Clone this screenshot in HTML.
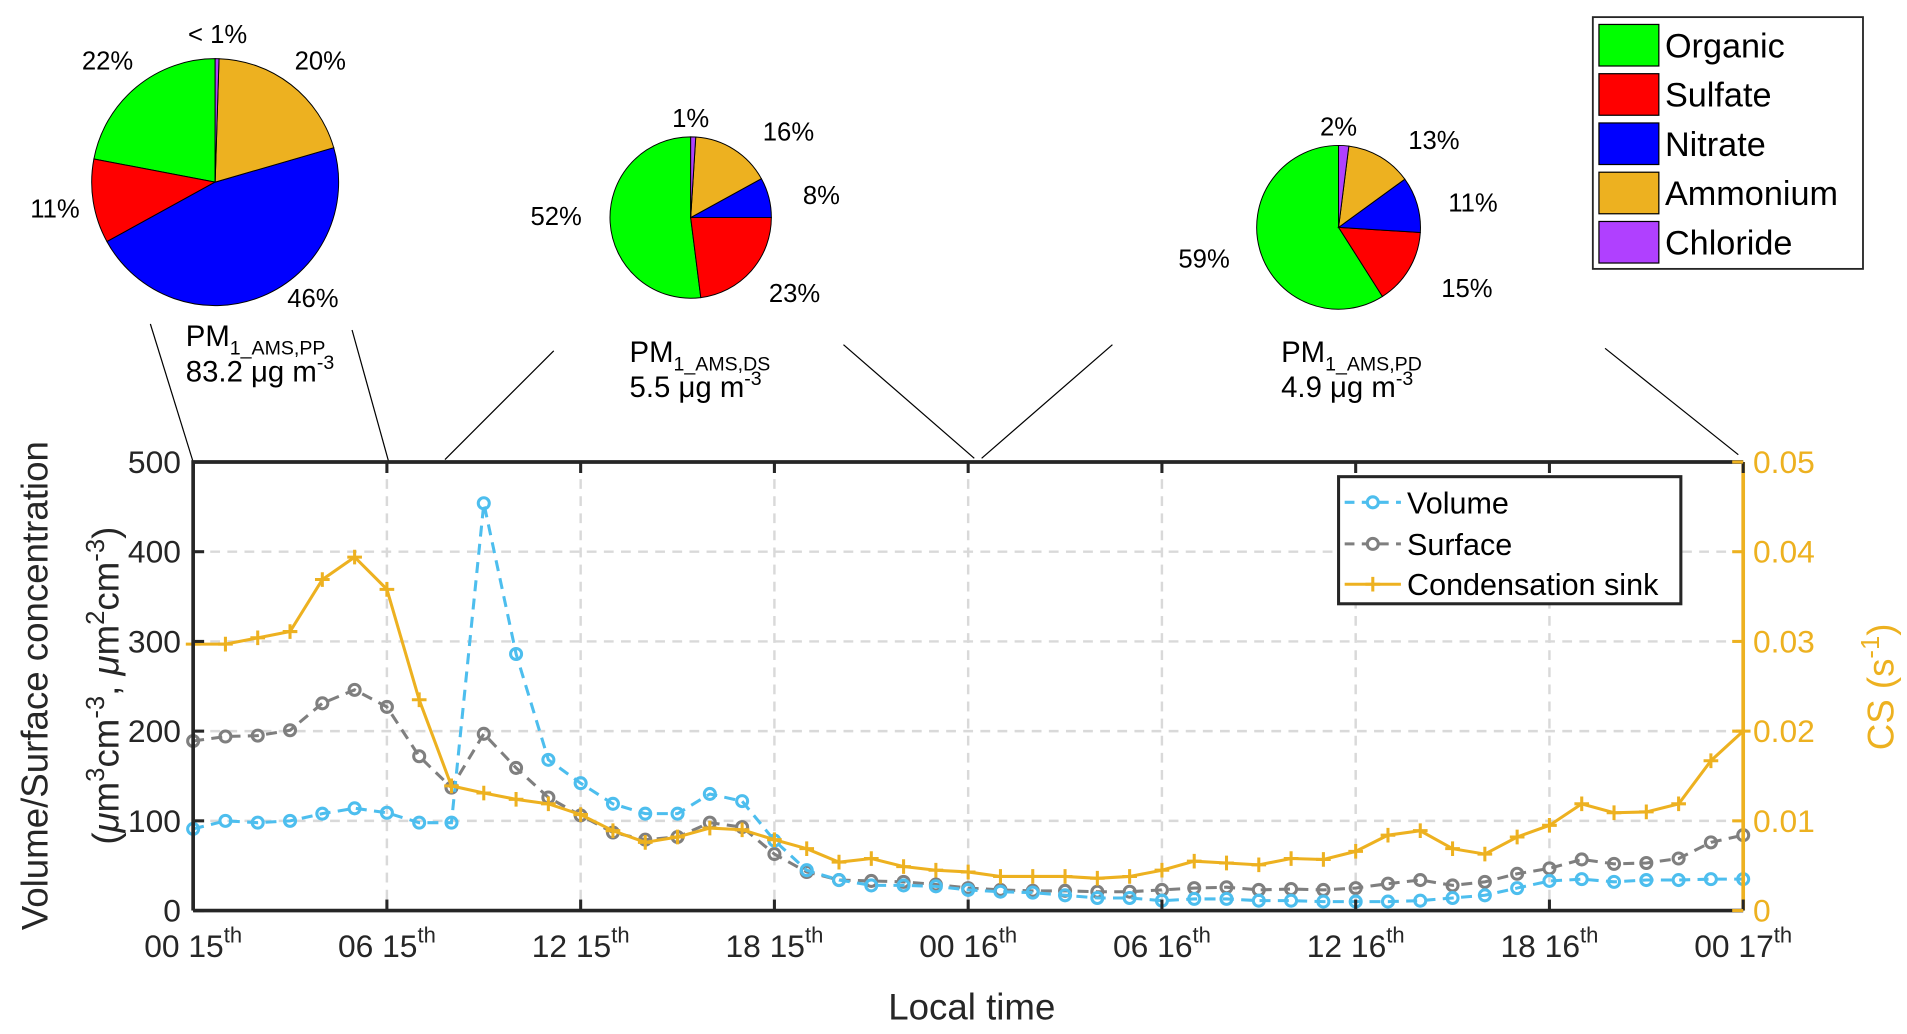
<!DOCTYPE html>
<html><head><meta charset="utf-8"><style>
html,body{margin:0;padding:0;background:#fff;}
svg{display:block;font-family:"Liberation Sans",sans-serif;}
</style></head><body>
<svg id="chart" width="1907" height="1034" viewBox="0 0 1560 846" preserveAspectRatio="none" xmlns="http://www.w3.org/2000/svg">
<g id="pies"></g>
<g id="grid"></g>
<g id="series"></g>
<g id="axes"></g>
</svg>
<script>
const hours = Array.from({length:49},(_,i)=>i);
const volume = [91,100,98,100,108,114,109,98,98,454,286,168,142,119,108,108,130,122,78,45,34,28,28,27,23,21,20,17,14,14,11,13,13,11,11,10,10,10,11,14,17,25,33,35,32,34,34,35,35];
const surface = [189,194,195,201,231,246,227,172,137,197,159,126,106,87,79,82,98,93,63,43,34,33,32,29,25,23,22,22,21,21,23,25,26,23,24,23,25,30,34,28,32,41,47,57,52,53,58,76,84];
const cs = [0.0297,0.0297,0.0304,0.0311,0.0369,0.0394,0.0358,0.0235,0.0139,0.0131,0.0124,0.0119,0.0107,0.0089,0.0076,0.0082,0.0092,0.0090,0.0079,0.0069,0.0054,0.0058,0.0049,0.0045,0.0043,0.0038,0.0038,0.0038,0.0036,0.0038,0.0045,0.0055,0.0053,0.0051,0.0058,0.0057,0.0066,0.0084,0.0089,0.0069,0.0063,0.0082,0.0095,0.0119,0.0109,0.0110,0.0119,0.0167,0.0200];
const xTickHours = [0,6,12,18,24,30,36,42,48];
const xTickLabels = [["00","15"],["06","15"],["12","15"],["18","15"],["00","16"],["06","16"],["12","16"],["18","16"],["00","17"]];
const yTicks = [0,100,200,300,400,500];
const y2Ticks = [0,0.01,0.02,0.03,0.04,0.05];
const pieSpecies = ["Organic","Sulfate","Nitrate","Ammonium","Chloride"];
const pieColors = ["#00ff00","#ff0000","#0000ff","#edb120","#b040ff"];
const pie1 = [0.22,0.11,0.465,0.20,0.005];
const pie2 = [0.52,0.23,0.08,0.16,0.01];
const pie3 = [0.59,0.15,0.11,0.13,0.02];

const NS="http://www.w3.org/2000/svg";
const L=158,R=1426,T=378,B=745;
const xS=h=>L+(R-L)*h/48;
const yS=v=>B-(B-T)*v/500;
const y2S=v=>B-(B-T)*v/0.05;
function mk(tag,attrs,parent,text){const e=document.createElementNS(NS,tag);for(const k in attrs)e.setAttribute(k,attrs[k]);if(text!==undefined)e.textContent=text;parent.appendChild(e);return e;}
const gG=document.getElementById('grid'),gS=document.getElementById('series'),gA=document.getElementById('axes'),gP=document.getElementById('pies');

xTickHours.forEach(h=>{if(h>0&&h<48){const l=mk('line',{x1:xS(h),x2:xS(h),y1:T,y2:B,stroke:'#d9d9d9','stroke-width':2,'stroke-dasharray':'8,6'},gG);

}});
yTicks.forEach(v=>{if(v>0&&v<500){const l=mk('line',{x1:L,x2:R,y1:yS(v),y2:yS(v),stroke:'#d9d9d9','stroke-width':2,'stroke-dasharray':'8,6'},gG);

}});

function series(vals,scale,color,dash,marker,name){
  const g=mk('g',{},gS);
  
  
  const pts=vals.map((v,i)=>xS(hours[i]).toFixed(1)+','+scale(v).toFixed(1)).join(' ');
  const pl=mk('polyline',{points:pts,fill:'none',stroke:color,'stroke-width':2.5,'stroke-dasharray':dash||'none'},g);
  
  
  vals.forEach((v,i)=>{const x=xS(hours[i]),y=scale(v);
    if(marker==='o'){const c=mk('circle',{cx:x,cy:y,r:4.5,fill:'none',stroke:color,'stroke-width':2.5},g);
      
      }
    else{const p=mk('path',{d:`M${x-6},${y}H${x+6}M${x},${y-6}V${y+6}`,stroke:color,'stroke-width':2.5},g);
      
      }
  });
}
series(surface,yS,'#7f7f7f','9,6','o','surface');
series(volume,yS,'#4dbeee','9,6','o','volume');
series(cs,y2S,'#edb120',null,'+','condensation-sink');

mk('path',{d:`M${L},${B}V${T}H${R}M${L},${B}H${R}`,fill:'none',stroke:'#262626','stroke-width':3},gA);
mk('line',{x1:R,x2:R,y1:T,y2:B,stroke:'#edb120','stroke-width':3},gA);
xTickHours.forEach((h,i)=>{const x=xS(h);
  mk('line',{x1:x,x2:x,y1:B,y2:B-9,stroke:'#262626','stroke-width':2.5},gA);
  mk('line',{x1:x,x2:x,y1:T,y2:T+9,stroke:'#262626','stroke-width':2.5},gA);
  const t=mk('text',{x:x,y:B+38,'text-anchor':'middle','font-size':26,fill:'#262626'},gA);
  
  
  t.appendChild(document.createTextNode(xTickLabels[i][0]+' '+xTickLabels[i][1]));
  mk('tspan',{dy:-12,'font-size':18},t,'th');
});
yTicks.forEach(v=>{const y=yS(v);
  mk('line',{x1:L,x2:L+9,y1:y,y2:y,stroke:'#262626','stroke-width':2.5},gA);
  const t=mk('text',{x:148,y:y+9,'text-anchor':'end','font-size':26,fill:'#262626'},gA,String(v));
  
  });
y2Ticks.forEach(v=>{const y=y2S(v);
  mk('line',{x1:R,x2:R-9,y1:y,y2:y,stroke:'#edb120','stroke-width':2.5},gA);
  const t=mk('text',{x:R+8,y:y+9,'font-size':26,fill:'#edb120'},gA,v===0?'0':v.toFixed(2));
  
  });
let t=mk('text',{x:795,y:834,'text-anchor':'middle','font-size':30,fill:'#262626'},gA,'Local time');


t=mk('text',{transform:'translate(39,561) rotate(-90)','text-anchor':'middle','font-size':30,fill:'#262626'},gA,'Volume/Surface concentration');


t=mk('text',{transform:'translate(97,561) rotate(-90)','text-anchor':'middle','font-size':30,fill:'#262626'},gA);


t.innerHTML='(<tspan font-style="italic">μ</tspan>m<tspan dy="-12" font-size="21">3</tspan><tspan dy="12">cm</tspan><tspan dy="-12" font-size="21">-3</tspan><tspan dy="12">, </tspan><tspan font-style="italic">μ</tspan>m<tspan dy="-12" font-size="21">2</tspan><tspan dy="12">cm</tspan><tspan dy="-12" font-size="21">-3</tspan><tspan dy="12">)</tspan>';
t=mk('text',{transform:'translate(1549,562) rotate(-90)','text-anchor':'middle','font-size':30,fill:'#edb120'},gA);


t.innerHTML='CS (s<tspan dy="-12" font-size="21">-1</tspan><tspan dy="12">)</tspan>';

const lg=mk('g',{},gA);


mk('rect',{x:1095,y:390,width:280,height:104,fill:'#fff',stroke:'#262626','stroke-width':2.5},lg);
[['Volume','#4dbeee','o',411],['Surface','#7f7f7f','o',445],['Condensation sink','#edb120','+',478]].forEach(e=>{
  const g=mk('g',{},lg);
  
  
  mk('line',{x1:1100,x2:1146,y1:e[3],y2:e[3],stroke:e[1],'stroke-width':2.5,'stroke-dasharray':e[2]==='o'?'8,6':'none'},g);
  if(e[2]==='o')mk('circle',{cx:1123,cy:e[3],r:4.5,fill:'#fff',stroke:e[1],'stroke-width':2.5},g);
  else mk('path',{d:`M1117,${e[3]}H1129M1123,${e[3]-6}V${e[3]+6}`,stroke:e[1],'stroke-width':2.5},g);
  mk('text',{x:1151,y:e[3]+9,'font-size':25,fill:'#000'},g,e[0]);
});

function pie(fr,cx,cy,r,name){
  const g=mk('g',{},gP);
  
  
  let a=0;
  fr.forEach((f,i)=>{
    const a0=a*2*Math.PI,a1=(a+f)*2*Math.PI;a+=f;
    const p=th=>[(cx-r*Math.sin(th)).toFixed(2),(cy-r*Math.cos(th)).toFixed(2)];
    const [x0,y0]=p(a0),[x1,y1]=p(a1);
    const s=mk('path',{d:`M${cx},${cy}L${x0},${y0}A${r},${r} 0 ${f>0.5?1:0} 0 ${x1},${y1}Z`,fill:pieColors[i],stroke:'#000','stroke-width':0.8},g);
    
    
  });
}
pie(pie1,176,149,101,'pie-pp');
pie(pie2,565,178,66,'pie-ds');
pie(pie3,1095,186,67,'pie-pd');
const pctLabels=[['< 1%',178,35],['20%',262,57],['22%',88,57],['11%',45,178],['46%',256,251],
 ['1%',565,104],['16%',645,115],['8%',672,167],['52%',455,184],['23%',650,247],
 ['2%',1095,111],['13%',1173,122],['11%',1205,173],['59%',985,219],['15%',1200,243]];
pctLabels.forEach(p=>{const t=mk('text',{x:p[1],y:p[2],'text-anchor':'middle','font-size':21,fill:'#000'},gP,p[0]);
  
  });
[['PP','83.2',152,283],['DS','5.5',515,296],['PD','4.9',1048,296]].forEach(p=>{
  const t=mk('text',{x:p[2],y:p[3],'font-size':24,fill:'#000'},gP);
  
  
  t.innerHTML=`PM<tspan dy="7" font-size="16">1_AMS,${p[0]}</tspan>`;
  const t2=mk('text',{x:p[2],y:p[3]+29,'font-size':24,fill:'#000'},gP);
  
  
  t2.innerHTML=`${p[1]} μg m<tspan dy="-10" font-size="16">-3</tspan>`;
});
[[123,265,158,378],[288,270,318,378],[453,287,364,376],[690,282,797,375],[910,282,803,375],[1313,285,1422,372]].forEach(c=>{
  const l=mk('line',{x1:c[0],y1:c[1],x2:c[2],y2:c[3],stroke:'#000','stroke-width':1},gP);
  
  });
const pl=mk('g',{},gP);


mk('rect',{x:1303,y:14,width:221,height:206,fill:'#fff',stroke:'#262626','stroke-width':1.5},pl);
pieSpecies.forEach((s,i)=>{const y=20+i*40.3;
  const g=mk('g',{},pl);
  
  
  mk('rect',{x:1308,y:y,width:49,height:34,fill:pieColors[i],stroke:'#000','stroke-width':1},g);
  mk('text',{x:1362,y:y+27,'font-size':28,fill:'#000'},g,s);
});
</script>
</body></html>
